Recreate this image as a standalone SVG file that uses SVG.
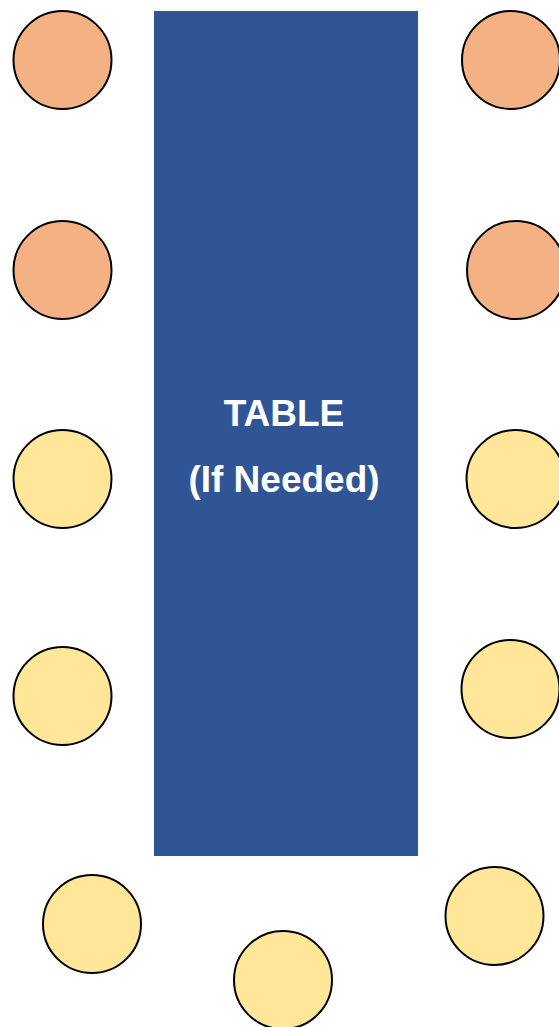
<svg xmlns="http://www.w3.org/2000/svg" width="559" height="1027" viewBox="0 0 559 1027">
<style>
.seat{stroke:#000;stroke-width:2}
.o{fill:#F4B183}
.y{fill:#FFE699}
.lbl{font-family:"Liberation Sans",Arial,sans-serif;font-weight:bold;font-size:37px;fill:#fff;text-anchor:middle}
</style>
<rect width="559" height="1027" fill="#fff"/>
<g id="table">
<rect x="154" y="11" width="264" height="845" fill="#2F5597"/>
<text class="lbl" x="284" y="426">TABLE</text>
<text class="lbl" x="284" y="492">(If Needed)</text>
</g>
<g id="seat-l1"><circle class="seat o" cx="62.5" cy="60" r="49"/></g>
<g id="seat-r1"><circle class="seat o" cx="511" cy="60" r="49"/></g>
<g id="seat-l2"><circle class="seat o" cx="62.5" cy="270" r="49"/></g>
<g id="seat-r2"><circle class="seat o" cx="516" cy="270" r="49"/></g>
<g id="seat-l3"><circle class="seat y" cx="62.5" cy="479" r="49"/></g>
<g id="seat-r3"><circle class="seat y" cx="515.5" cy="479" r="49"/></g>
<g id="seat-l4"><circle class="seat y" cx="62.5" cy="696" r="49"/></g>
<g id="seat-r4"><circle class="seat y" cx="510.5" cy="689" r="49"/></g>
<g id="seat-b1"><circle class="seat y" cx="92" cy="924" r="49"/></g>
<g id="seat-b2"><circle class="seat y" cx="283" cy="980" r="49"/></g>
<g id="seat-b3"><circle class="seat y" cx="494.5" cy="916" r="49"/></g>
<g id="connectors"></g>
</svg>
